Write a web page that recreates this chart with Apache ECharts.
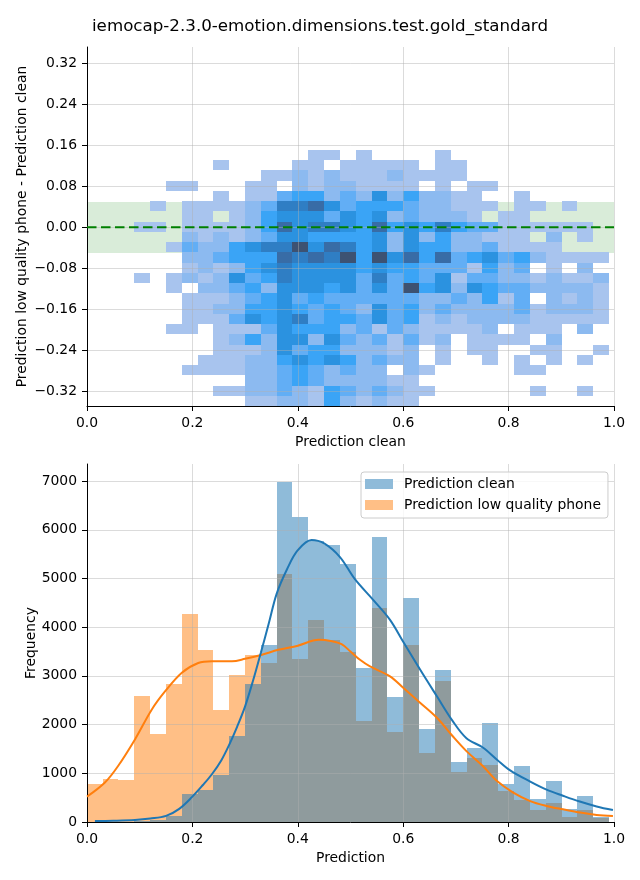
<!DOCTYPE html>
<html>
<head>
<meta charset="utf-8">
<script src="https://cdn.jsdelivr.net/npm/echarts@6/dist/echarts.min.js"></script>
<style>html,body{margin:0;padding:0;background:#fff}#c{width:640px;height:880px}</style>
</head>
<body>
<div id="c"></div>
<script>
// ---------------- data ----------------
const titleText = 'iemocap-2.3.0-emotion.dimensions.test.gold_standard';
const seriesNames = ['Prediction clean', 'Prediction low quality phone'];

// shared histogram bins (bottom panel)
const binStart = -0.0005;
const binWidth = 0.03003;
const cleanCounts = [0, 5, 10, 20, 40, 125, 565, 665, 975, 1767, 2825, 3640, 6990, 6257, 5770, 5680, 5290, 3170, 5860, 2575, 4600, 1915, 3125, 1240, 1525, 2035, 773, 1142, 466, 835, 262, 528, 105];
const phoneCounts = [773, 880, 855, 2595, 1797, 2840, 4272, 3536, 2308, 3024, 3434, 3263, 5090, 3345, 4150, 3740, 3480, 2070, 4400, 1845, 3640, 1425, 2895, 1020, 1305, 1170, 637, 446, 248, 385, 105, 241, 78];

// KDE curves (scaled to counts)
const kdeCleanX = [0.015, 0.05, 0.091, 0.12, 0.15, 0.175, 0.199, 0.22, 0.237, 0.255, 0.27, 0.285, 0.3, 0.315, 0.33, 0.345, 0.36, 0.38, 0.4, 0.426, 0.45, 0.48, 0.508, 0.543, 0.575, 0.6, 0.632, 0.664, 0.694, 0.72, 0.751, 0.778, 0.803, 0.841, 0.872, 0.903, 0.935, 0.967, 0.998];
const kdeCleanY = [20, 25, 40, 70, 125, 270, 510, 760, 980, 1270, 1590, 1960, 2375, 2900, 3480, 4080, 4690, 5200, 5580, 5790, 5720, 5440, 4990, 4560, 4150, 3700, 3130, 2580, 2070, 1720, 1530, 1280, 1060, 830, 665, 540, 420, 320, 245];
const kdePhoneX = [0, 0.034, 0.059, 0.091, 0.123, 0.148, 0.18, 0.211, 0.237, 0.275, 0.3, 0.332, 0.363, 0.4, 0.44, 0.465, 0.483, 0.5, 0.518, 0.537, 0.575, 0.6, 0.632, 0.664, 0.694, 0.72, 0.751, 0.778, 0.808, 0.841, 0.872, 0.903, 0.935, 0.967, 0.998];
const kdePhoneY = [520, 810, 1150, 1695, 2310, 2680, 3065, 3265, 3300, 3300, 3350, 3435, 3535, 3620, 3740, 3710, 3650, 3500, 3330, 3195, 2990, 2755, 2450, 2140, 1760, 1455, 1150, 840, 610, 430, 330, 260, 195, 145, 125];

// 2D histogram (top panel): intensity level per cell (0 = empty), rows from top
const heatXStart = 0.0896;
const heatXWidth = 0.03003;
const heatYTop = 0.1508;
const heatYHeight = 0.01998;
const heatRows = [
  '000000000001101000010000000000',
  '000001000011011111011000000000',
  '000000001121211121111000000000',
  '001100011021221111010110000000',
  '000001011344232524221100100000',
  '010111123667534443221110110100',
  '000110124555354523222101100000',
  '110111124756654745464331111110',
  '000212123554444525242211102010',
  '001322456685764525442231111000',
  '000223444767684857473453421111',
  '000121245655554544333142301020',
  '101212534655553634351332212112',
  '001022342555453538452543322221',
  '000111234534333333223241302121',
  '000112244543432534232222312221',
  '000111354563443534121222211111',
  '001101113544423132111120111020',
  '000001242552532313120111102000',
  '000001112534422212010110011001',
  '000011122454542322010010101010',
  '000111122343232202100000110000',
  '000000022343222211000000000000',
  '000001122321432321100000010010',
  '000000011221421211000000000000'
];
const bandHalf = 0.05;

// ticks
const topXTicks = [0, 0.2, 0.4, 0.6, 0.8, 1.0];
const topYTicks = [-0.32, -0.24, -0.16, -0.08, 0, 0.08, 0.16, 0.24, 0.32];
const bottomXTicks = [0, 0.2, 0.4, 0.6, 0.8, 1.0];
const bottomYTicks = [0, 1000, 2000, 3000, 4000, 5000, 6000, 7000];

// ---------------- styles ----------------
const FONT = 'DejaVu Sans';
const FS = 13.9;
const gridColor = 'rgba(176,176,176,0.45)';
const heatPalette = ['#a8c4ee', '#8cbaf0', '#62aef5', '#3aa4f6', '#2b92e0', '#2f7ec4', '#386ca6', '#3d5272'];

// ---------------- build data ----------------
const heatData = [];
heatRows.forEach((row, r) => {
  for (let c = 0; c < row.length; c++) {
    const lvl = +row[c];
    if (lvl > 0) {
      const x0 = heatXStart + c * heatXWidth;
      const y1 = heatYTop - r * heatYHeight;
      heatData.push([x0, x0 + heatXWidth, y1 - heatYHeight, y1, lvl]);
    }
  }
});
function histData(counts) {
  const out = [];
  counts.forEach((v, k) => {
    if (v > 0) out.push([binStart + k * binWidth, binStart + (k + 1) * binWidth, v]);
  });
  return out;
}
const cleanBars = histData(cleanCounts);
const phoneBars = histData(phoneCounts);
const kdeClean = kdeCleanX.map((x, i) => [x, kdeCleanY[i]]);
const kdePhone = kdePhoneX.map((x, i) => [x, kdePhoneY[i]]);

function rectRender(fillFn) {
  return function (params, api) {
    const x0 = api.value(0), x1 = api.value(1);
    const p0 = api.coord([x0, api.value(3)]);
    const p1 = api.coord([x1, api.value(2)]);
    const xa = Math.round(p0[0]), xb = Math.round(p1[0]);
    const ya = Math.round(p0[1]), yb = Math.round(p1[1]);
    return { type: 'rect', shape: { x: xa, y: ya, width: xb - xa, height: yb - ya }, style: { fill: fillFn(api) } };
  };
}
function barRender(color) {
  return function (params, api) {
    const p0 = api.coord([api.value(0), api.value(2)]);
    const p1 = api.coord([api.value(1), 0]);
    const xa = Math.round(p0[0]), xb = Math.round(p1[0]);
    const ya = Math.round(p0[1]), yb = Math.round(p1[1]);
    return { type: 'rect', shape: { x: xa, y: ya, width: xb - xa, height: yb - ya }, style: { fill: color } };
  };
}

function xAxisOpt(gridIndex, name, ticks) {
  return {
    gridIndex, type: 'value', min: 0, max: 1, z: 3,
    name, nameLocation: 'middle', nameGap: 29, nameMoveOverlap: false,
    nameTextStyle: { fontFamily: FONT, fontSize: FS, color: '#000' },
    axisLine: { show: true, onZero: false, lineStyle: { color: '#000', width: 1 } },
    axisTick: { show: true, length: 5, customValues: ticks, lineStyle: { color: '#000', width: 1 } },
    axisLabel: { customValues: ticks, margin: 10, fontFamily: FONT, fontSize: FS, color: '#000', formatter: v => (+v).toFixed(1) },
    splitLine: { show: true, lineStyle: { color: gridColor, width: 1 } }
  };
}
function yAxisOpt(gridIndex, name, ticks, min, max, fmt, gap) {
  return {
    gridIndex, type: 'value', min, max, z: 3,
    name, nameLocation: 'middle', nameGap: gap, nameMoveOverlap: false,
    nameTextStyle: { fontFamily: FONT, fontSize: FS, color: '#000' },
    axisLine: { show: true, onZero: false, lineStyle: { color: '#000', width: 1 } },
    axisTick: { show: true, length: 5, customValues: ticks, lineStyle: { color: '#000', width: 1 } },
    axisLabel: { customValues: ticks, margin: 10, fontFamily: FONT, fontSize: FS, color: '#000', formatter: fmt },
    splitLine: { show: true, lineStyle: { color: gridColor, width: 1 } }
  };
}

const option = {
  animation: false,
  backgroundColor: '#fff',
  title: {
    text: titleText, left: 'center', top: 18, padding: 0,
    textStyle: { fontFamily: FONT, fontSize: 16.7, fontWeight: 'normal', color: '#000' }
  },
  legend: {
    left: 361, top: 472, orient: 'vertical', align: 'left',
    itemWidth: 28, itemHeight: 10, itemGap: 5,
    padding: [4, 7, 5, 4],
    backgroundColor: 'rgba(255,255,255,0.8)', borderColor: '#cccccc', borderWidth: 1, borderRadius: 3,
    textStyle: { fontFamily: FONT, fontSize: FS, color: '#000', padding: [0, 0, 0, 6], lineHeight: 16 },
    data: [
      { name: seriesNames[0], icon: 'rect', itemStyle: { color: '#8fbbd9', opacity: 1 } },
      { name: seriesNames[1], icon: 'rect', itemStyle: { color: '#ffbf86', opacity: 1 } }
    ],
    selectedMode: false
  },
  grid: [
    { left: 87, right: 26, top: 47, bottom: 474, containLabel: false },
    { left: 87, right: 26, top: 464, bottom: 58, containLabel: false }
  ],
  xAxis: [
    xAxisOpt(0, 'Prediction clean', topXTicks),
    xAxisOpt(1, 'Prediction', bottomXTicks)
  ],
  yAxis: [
    yAxisOpt(0, 'Prediction low quality phone - Prediction clean', topYTicks, -0.3487, 0.3518,
      v => (v < -1e-9 ? '\u2212' : '') + Math.abs(v).toFixed(2), 58),
    yAxisOpt(1, 'Frequency', bottomYTicks, 0, 7350, v => String(Math.round(v)), 49)
  ],
  series: [
    {
      name: 'band', type: 'custom', xAxisIndex: 0, yAxisIndex: 0, z: 1, silent: true,
      data: [[0, 1, -bandHalf, bandHalf]], encode: { x: [0, 1], y: [2, 3] },
      renderItem: rectRender(() => 'rgba(0,128,0,0.15)')
    },
    {
      name: 'heat', type: 'custom', xAxisIndex: 0, yAxisIndex: 0, z: 2, silent: true,
      data: heatData, encode: { x: [0, 1], y: [2, 3] },
      renderItem: rectRender(api => heatPalette[api.value(4) - 1])
    },
    {
      name: 'zero', type: 'line', xAxisIndex: 0, yAxisIndex: 0, z: 5, silent: true,
      data: [[0, 0], [1, 0]], symbol: 'none',
      lineStyle: { color: '#008000', width: 2, type: [9.5, 4.5] }
    },
    {
      name: seriesNames[1], type: 'custom', xAxisIndex: 1, yAxisIndex: 1, z: 2, silent: true,
      itemStyle: { color: '#ffbf86' },
      data: phoneBars, encode: { x: [0, 1], y: 2 },
      renderItem: barRender('rgba(255,127,14,0.5)')
    },
    {
      name: seriesNames[0], type: 'custom', xAxisIndex: 1, yAxisIndex: 1, z: 2, silent: true,
      itemStyle: { color: '#8fbbd9' },
      data: cleanBars, encode: { x: [0, 1], y: 2 },
      renderItem: barRender('rgba(31,119,180,0.5)')
    },
    {
      name: 'kde phone', type: 'line', xAxisIndex: 1, yAxisIndex: 1, z: 5, silent: true,
      data: kdePhone, symbol: 'none', smooth: 0.35,
      lineStyle: { color: '#ff7f0e', width: 2 }
    },
    {
      name: 'kde clean', type: 'line', xAxisIndex: 1, yAxisIndex: 1, z: 5, silent: true,
      data: kdeClean, symbol: 'none', smooth: 0.35,
      lineStyle: { color: '#1f77b4', width: 2 }
    }
  ]
};

const chart = echarts.init(document.getElementById('c'), null, { renderer: 'canvas' });
chart.setOption(option);
</script>
</body>
</html>
